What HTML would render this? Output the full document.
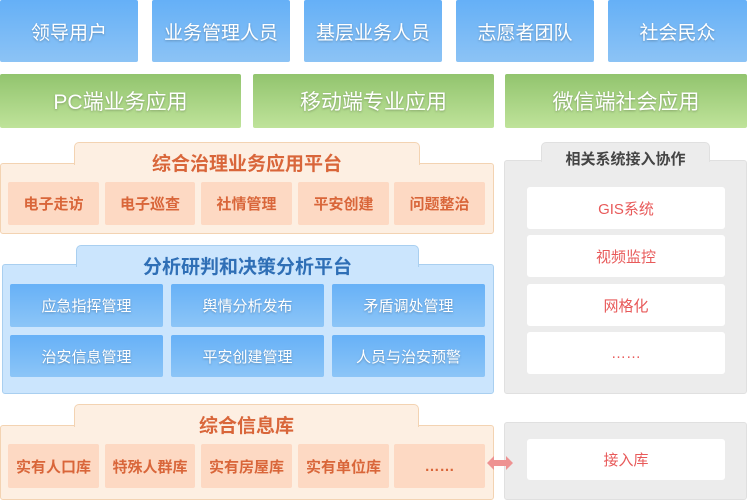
<!DOCTYPE html>
<html><head><meta charset="utf-8"><style>
*{margin:0;padding:0;box-sizing:border-box}
body{width:747px;height:496px;background:#fff;position:relative;overflow:hidden;font-family:"Liberation Sans","Noto Sans CJK SC",sans-serif}
.a{position:absolute;display:flex;align-items:center;justify-content:center;text-align:center}
.u{background:linear-gradient(#65b0f7,#8cc3f5);color:#fff;font-size:19px;border-radius:2px;text-shadow:0 1px 2px rgba(0,0,0,.25)}
.g{background:linear-gradient(#92c46e,#bfe39a);color:#fff;font-size:21px;border-radius:2px;text-shadow:0 1px 2px rgba(0,0,0,.25)}
.ob{background:#fdefe2;border:1px solid #f3d3b2;border-radius:3px}
.ot{background:#fdefe2;border:1px solid #f3d3b2;border-bottom:none;border-radius:5px 5px 0 0}
.otx{color:#d9663a;font-size:19px;font-weight:bold}
.oi{background:#fdd9c3;color:#d9663a;font-size:15px;font-weight:bold;border-radius:2px}
.bb{background:#cbe5fd;border:1px solid #a9cff0;border-radius:3px}
.bt{background:#cbe5fd;border:1px solid #a9cff0;border-bottom:none;border-radius:5px 5px 0 0}
.btx{color:#2f6fb6;font-size:19px;font-weight:bold}
.bi{background:linear-gradient(#67b1f7,#8cc5f7);color:#fff;font-size:15px;border-radius:2px;text-shadow:0 1px 2px rgba(0,0,0,.25)}
.gb{background:#ececec;border:1px solid #e0e0e0;border-radius:3px}
.gt{background:#ececec;border:1px solid #e0e0e0;border-bottom:none;border-radius:5px 5px 0 0}
.gtx{color:#444;font-size:15px;font-weight:bold}
.wi{background:#fff;color:#e85a5a;font-size:15px;border-radius:3px}
</style></head><body>
<div class="a u" style="left:0;top:0;width:138px;height:62px">领导用户</div>
<div class="a u" style="left:152px;top:0;width:138px;height:62px">业务管理人员</div>
<div class="a u" style="left:304px;top:0;width:138px;height:62px">基层业务人员</div>
<div class="a u" style="left:456px;top:0;width:138px;height:62px">志愿者团队</div>
<div class="a u" style="left:608px;top:0;width:139px;height:62px">社会民众</div>
<div class="a g" style="left:0;top:74px;width:241px;height:54px">PC端业务应用</div>
<div class="a g" style="left:253px;top:74px;width:241px;height:54px">移动端专业应用</div>
<div class="a g" style="left:505px;top:74px;width:242px;height:54px">微信端社会应用</div>

<div class="ob" style="position:absolute;left:0;top:163px;width:494px;height:71px"></div>
<div class="ot" style="position:absolute;left:74px;top:142px;width:346px;height:23px"></div>
<div class="a otx" style="left:74px;top:150px;width:346px;height:24px">综合治理业务应用平台</div>
<div class="a oi" style="left:8px;top:182px;width:91px;height:43px">电子走访</div>
<div class="a oi" style="left:105px;top:182px;width:90px;height:43px">电子巡查</div>
<div class="a oi" style="left:201px;top:182px;width:91px;height:43px">社情管理</div>
<div class="a oi" style="left:298px;top:182px;width:91px;height:43px">平安创建</div>
<div class="a oi" style="left:394px;top:182px;width:91px;height:43px">问题整治</div>

<div class="bb" style="position:absolute;left:2px;top:264px;width:492px;height:130px"></div>
<div class="bt" style="position:absolute;left:76px;top:245px;width:343px;height:22px"></div>
<div class="a btx" style="left:76px;top:253px;width:343px;height:24px">分析研判和决策分析平台</div>
<div class="a bi" style="left:10px;top:284px;width:153px;height:43px">应急指挥管理</div>
<div class="a bi" style="left:171px;top:284px;width:153px;height:43px">舆情分析发布</div>
<div class="a bi" style="left:332px;top:284px;width:153px;height:43px">矛盾调处管理</div>
<div class="a bi" style="left:10px;top:335px;width:153px;height:42px">治安信息管理</div>
<div class="a bi" style="left:171px;top:335px;width:153px;height:42px">平安创建管理</div>
<div class="a bi" style="left:332px;top:335px;width:153px;height:42px">人员与治安预警</div>

<div class="ob" style="position:absolute;left:0;top:425px;width:494px;height:75px"></div>
<div class="ot" style="position:absolute;left:74px;top:404px;width:345px;height:23px"></div>
<div class="a otx" style="left:74px;top:412px;width:345px;height:24px">综合信息库</div>
<div class="a oi" style="left:8px;top:444px;width:91px;height:44px">实有人口库</div>
<div class="a oi" style="left:105px;top:444px;width:90px;height:44px">特殊人群库</div>
<div class="a oi" style="left:201px;top:444px;width:91px;height:44px">实有房屋库</div>
<div class="a oi" style="left:298px;top:444px;width:91px;height:44px">实有单位库</div>
<div class="a oi" style="left:394px;top:444px;width:91px;height:44px">……</div>

<div class="gb" style="position:absolute;left:504px;top:160px;width:243px;height:234px"></div>
<div class="gt" style="position:absolute;left:541px;top:142px;width:169px;height:20px"></div>
<div class="a gtx" style="left:541px;top:148px;width:169px;height:20px">相关系统接入协作</div>
<div class="a wi" style="left:527px;top:187px;width:198px;height:42px">GIS系统</div>
<div class="a wi" style="left:527px;top:235px;width:198px;height:42px">视频监控</div>
<div class="a wi" style="left:527px;top:284px;width:198px;height:42px">网格化</div>
<div class="a wi" style="left:527px;top:332px;width:198px;height:42px">……</div>
<div class="gb" style="position:absolute;left:504px;top:422px;width:243px;height:78px"></div>
<div class="a wi" style="left:527px;top:439px;width:198px;height:41px">接入库</div>
<svg style="position:absolute;left:486px;top:455px" width="28" height="16"><polygon points="1,8 8,1 8,5 20,5 20,1 27,8 20,15 20,11 8,11 8,15" fill="#ee9292"/></svg>
</body></html>
